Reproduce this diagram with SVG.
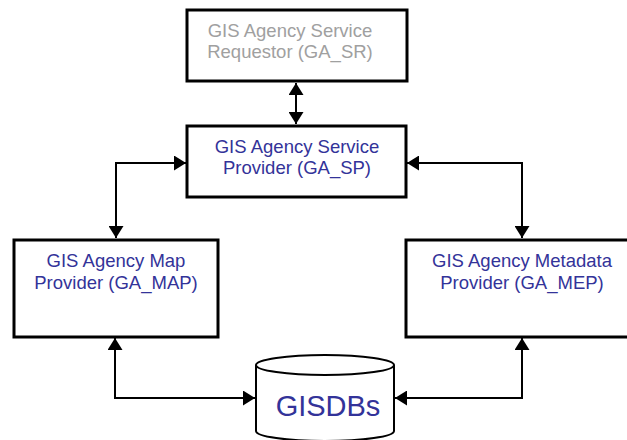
<svg xmlns="http://www.w3.org/2000/svg" width="627" height="440" viewBox="0 0 627 440">
<style>
.box{fill:#fff;stroke:#000;stroke-width:3}
.t{font-family:"Liberation Sans",Arial,sans-serif;font-size:18.5px;text-anchor:middle;fill:#333399}
.g{fill:#a0a0a0}
.c{fill:none;stroke:#000;stroke-width:2}
</style>
<defs>
<marker id="a" viewBox="0 0 12 15" refX="12" refY="7.5" markerWidth="12" markerHeight="15" markerUnits="userSpaceOnUse" orient="auto-start-reverse">
<path d="M0,0 L12,7.5 L0,15 Z" fill="#000"/>
</marker>
</defs>
<g id="connectors">
<path class="c" d="M296,83 L296,124" marker-start="url(#a)" marker-end="url(#a)"/>
<path class="c" d="M186,163 L116,163 L116,238" marker-start="url(#a)" marker-end="url(#a)"/>
<path class="c" d="M407,163 L522,163 L522,238" marker-start="url(#a)" marker-end="url(#a)"/>
<path class="c" d="M115,338 L115,398 L255,398" marker-start="url(#a)" marker-end="url(#a)"/>
<path class="c" d="M522,338 L522,398 L395,398" marker-start="url(#a)" marker-end="url(#a)"/>
</g>
<g id="GA_SR">
<rect class="box" x="187" y="10" width="220" height="71"/>
<text class="t g" x="290" y="37">GIS Agency Service</text>
<text class="t g" x="290" y="58">Requestor (GA_SR)</text>
</g>
<g id="GA_SP">
<rect class="box" x="187" y="126" width="219" height="71"/>
<text class="t" x="297" y="153">GIS Agency Service</text>
<text class="t" x="297" y="174">Provider (GA_SP)</text>
</g>
<g id="GA_MAP">
<rect class="box" x="14" y="240" width="204" height="97"/>
<text class="t" x="116" y="267">GIS Agency Map</text>
<text class="t" x="116" y="289">Provider (GA_MAP)</text>
</g>
<g id="GA_MEP">
<rect class="box" x="406" y="240" width="240" height="97"/>
<text class="t" x="522" y="267">GIS Agency Metadata</text>
<text class="t" x="522" y="289">Provider (GA_MEP)</text>
</g>
<g id="GISDBs">
<path d="M256,365 L256,431 A69,10 0 0 0 394,431 L394,365" fill="#fff" stroke="#000" stroke-width="2"/>
<ellipse cx="325" cy="365" rx="69" ry="10" fill="#fff" stroke="#000" stroke-width="2"/>
<text x="328" y="416" style="font-family:'Liberation Sans',Arial,sans-serif;font-size:29px;text-anchor:middle;fill:#333399">GISDBs</text>
</g>
</svg>
